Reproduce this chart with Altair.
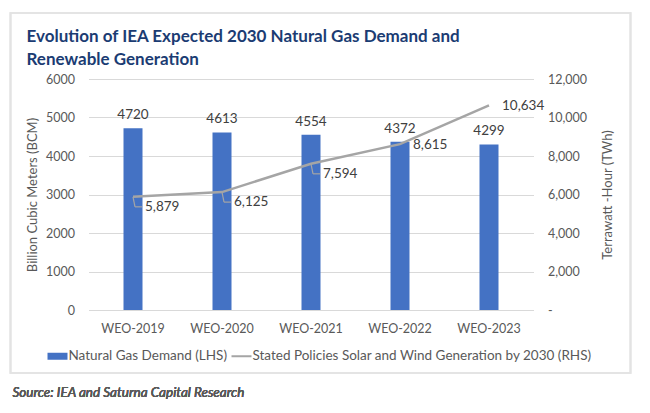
import altair as alt
import pandas as pd

categories = ["WEO-2019", "WEO-2020", "WEO-2021", "WEO-2022", "WEO-2023"]
gas_demand = [4720, 4613, 4554, 4372, 4299]
solar_wind = [5879, 6125, 7594, 8615, 10634]
series_names = ["Natural Gas Demand (LHS)",
                "Stated Policies Solar and Wind Generation by 2030 (RHS)"]
left_ticks = [0, 1000, 2000, 3000, 4000, 5000, 6000]
right_ticks = [0, 2000, 4000, 6000, 8000, 10000, 12000]
title_lines = ["Evolution of IEA Expected 2030 Natural Gas Demand and",
               "Renewable Generation"]
source_text = "Source: IEA and Saturna Capital Research"

BLUE = "#4472C4"
GRAY = "#A5A5A5"
TXT = "#595959"
FONT = "Lato"

df = pd.DataFrame({"cat": categories, "gas": gas_demand, "sw": solar_wind})
df["sw_label"] = [f"{v:,}" for v in solar_wind]
df["gas_label"] = [str(v) for v in gas_demand]
legend_df = pd.DataFrame({"series": series_names})

x = alt.X("cat:N", sort=categories, title=None,
          scale=alt.Scale(paddingInner=0, paddingOuter=0),
          axis=alt.Axis(labelAngle=0, domain=False, ticks=False, labelPadding=12,
                        labelFont=FONT, labelFontSize=12.5, labelColor=TXT))

yL = alt.Y("gas:Q", title="Billion Cubic Meters (BCM)",
           scale=alt.Scale(domain=[0, 6000], nice=False),
           axis=alt.Axis(values=left_ticks, format="d", domain=False, ticks=False,
                         grid=True, gridColor="#D9D9D9", labelPadding=14,
                         labelFont=FONT, labelFontSize=12.5, labelColor=TXT,
                         titleFont=FONT, titleFontSize=13, titleColor=TXT,
                         titleFontWeight="normal", titlePadding=6))

yR = alt.Y("sw:Q", title="Terrawatt -Hour (TWh)",
           scale=alt.Scale(domain=[0, 12000], nice=False),
           axis=alt.Axis(orient="right", values=right_ticks, domain=False, ticks=False,
                         grid=False, labelPadding=14,
                         labelExpr="datum.value == 0 ? '-' : format(datum.value, ',')",
                         labelFont=FONT, labelFontSize=12.5, labelColor=TXT,
                         titleFont=FONT, titleFontSize=13, titleColor=TXT,
                         titleFontWeight="normal", titleAngle=270, titlePadding=28))

bars = alt.Chart(df).mark_bar(size=19, color=BLUE).encode(x=x, y=yL)

bar_labels = alt.Chart(df).mark_text(
    baseline="middle", dy=-13, font=FONT, fontSize=13.5, color="#404040"
).encode(x=x, y=yL, text="gas_label:N")

left = alt.layer(bars, bar_labels)

line = alt.Chart(df).mark_line(strokeWidth=2.5, color=GRAY).encode(x=x, y=yR)

early = categories[:3]
late = categories[3:]
line_labels_a = alt.Chart(df).transform_filter(
    alt.FieldOneOfPredicate(field="cat", oneOf=early)
).mark_text(align="left", baseline="middle", dx=12, dy=10, font=FONT,
            fontSize=13.5, color="#404040").encode(x=x, y=yR, text="sw_label:N")
line_labels_b = alt.Chart(df).transform_filter(
    alt.FieldOneOfPredicate(field="cat", oneOf=late)
).mark_text(align="left", baseline="middle", dx=13, dy=1, font=FONT,
            fontSize=13.5, color="#404040").encode(x=x, y=yR, text="sw_label:N")

# small leader lines from the early points towards their labels
leader_v = alt.Chart(df).transform_filter(
    alt.FieldOneOfPredicate(field="cat", oneOf=early)
).mark_rule(color=GRAY, strokeWidth=1.2, y2Offset=10, x2Offset=2).encode(
    x=x, x2=alt.X2("cat"), y=yR, y2=alt.Y2("sw"))
leader_h = alt.Chart(df).transform_filter(
    alt.FieldOneOfPredicate(field="cat", oneOf=early)
).mark_rule(color=GRAY, strokeWidth=1.2, xOffset=2, x2Offset=9, yOffset=10,
            y2Offset=10).encode(x=x, x2=alt.X2("cat"), y=yR, y2=alt.Y2("sw"))

right = alt.layer(line, leader_v, leader_h, line_labels_a, line_labels_b)

legend = alt.Legend(
    title=None, orient="none", legendX=-41, legendY=267, direction="horizontal",
    symbolSize=400, symbolStrokeWidth=0, symbolOpacity=1, labelLimit=500,
    labelFont=FONT, labelFontSize=13.5, labelColor=TXT, labelOffset=1,
    columnPadding=4)
legend_layer = alt.Chart(legend_df).mark_point(filled=True, opacity=1, clip=True).encode(
    x=alt.value(-40), y=alt.value(-40),
    color=alt.Color("series:N", scale=alt.Scale(domain=series_names, range=[BLUE, GRAY]),
                    legend=legend),
    shape=alt.Shape("series:N", scale=alt.Scale(
        domain=series_names,
        range=["M-1,-0.35H1V0.35H-1Z", "M-1,-0.1H1V0.1H-1Z"]), legend=legend))

frame = alt.Chart(df).mark_rect(fill="transparent", stroke="#E3E3E3", strokeWidth=1.5).encode(
    x=alt.value(-78), x2=alt.value(542), y=alt.value(-66), y2=alt.value(294))

source = alt.Chart(df).mark_text(
    align="left", baseline="middle", font=FONT, fontStyle="italic",
    fontWeight="normal", fontSize=13.5, color="#595959"
).encode(x=alt.value(-76), y=alt.value(314), text=alt.value(source_text))

chart = alt.layer(frame, left, right, legend_layer, source).resolve_scale(
    y="independent").properties(
    width=445, height=231,
    autosize=alt.AutoSizeParams(type="none"),
    padding={"left": 88.5, "top": 79, "right": 116.5, "bottom": 103},
    background="white",
    title=alt.TitleParams(title_lines, anchor="start", frame="group", dx=-62,
                          font=FONT, fontSize=17, fontWeight="bold",
                          color="#1B3C73", lineHeight=23, offset=-57),
).configure_view(stroke=None)

chart.save("out.html", embed_options={"renderer": "svg", "actions": False})
